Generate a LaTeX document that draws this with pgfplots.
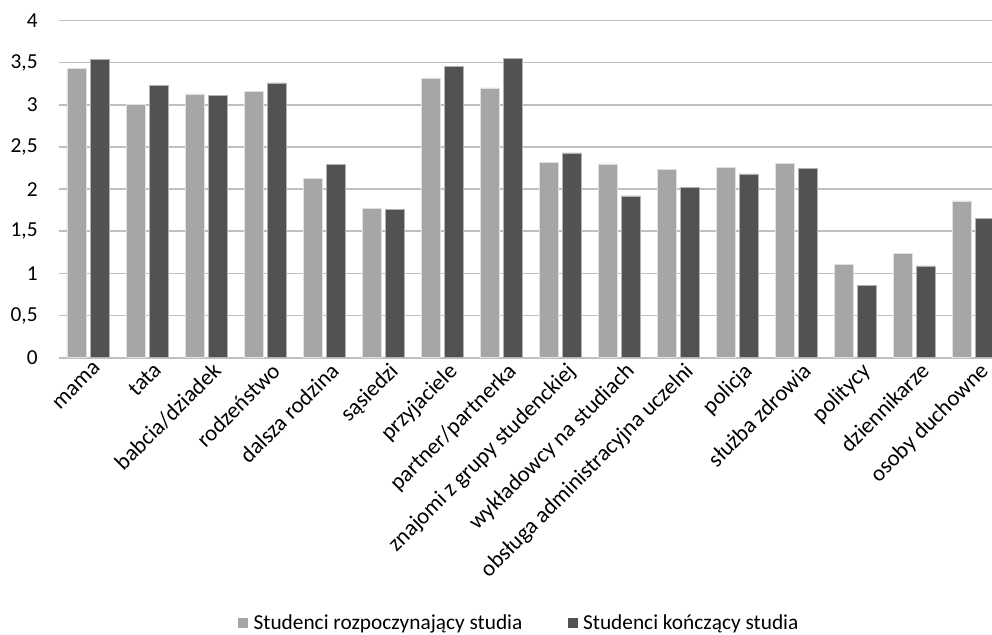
\documentclass[border=0pt]{standalone}
\usepackage{pgfplots}
\pgfplotsset{compat=1.18}
\usepackage{fontspec}
\setmainfont{Carlito}
\definecolor{lightbar}{HTML}{A6A6A6}
\definecolor{darkbar}{HTML}{525252}
\definecolor{gridgray}{HTML}{BFBFBF}
\begin{document}
\begin{tikzpicture}[x=1pt,y=1pt]
\begin{axis}[
  at={(0pt,0pt)}, anchor=south west,
  scale only axis,
  width=700.1pt, height=252.9pt,
  xmin=-0.5, xmax=15.32,
  ymin=0, ymax=4,
  ytick={0,0.5,1,1.5,2,2.5,3,3.5,4},
  yticklabels={0,{0,5},1,{1,5},2,{2,5},3,{3,5},4},
  xtick={0,...,15},
  xticklabels={mama,tata,babcia/dziadek,rodzeństwo,dalsza rodzina,sąsiedzi,przyjaciele,partner/partnerka,znajomi z grupy studenckiej,wykładowcy na studiach,obsługa administracyjna uczelni,policja,służba zdrowia,politycy,dziennikarze,osoby duchowne},
  x tick label style={rotate=45, anchor=north east, inner sep=0.5pt, font=\fontsize{17}{19}\selectfont, xshift=1.5pt, yshift=-4pt},
  y tick label style={font=\fontsize{16}{18}\selectfont, anchor=east, inner sep=0pt, xshift=-15.5pt},
  major tick length=0pt,
  axis line style={draw=none},
  ymajorgrids,
  grid style={gridgray, line width=1.2pt},
  ybar, bar width=0.322,
  legend style={at={(0.494,-0.787)}, anchor=center, draw=none, legend columns=2,
    font=\fontsize{16}{18}\selectfont,
    /tikz/every even column/.append style={column sep=32pt},
    /tikz/every odd column/.append style={column sep=2pt}},
  legend image code/.code={\draw[#1, draw=none] (0pt,-4pt) rectangle (7.5pt,3.5pt);},
]
\addplot[bar shift=-0.195, fill=lightbar, draw=white!88!black, line width=0.5pt] coordinates {
 (0,3.43) (1,3.00) (2,3.13) (3,3.16) (4,2.13) (5,1.77) (6,3.32) (7,3.20)
 (8,2.32) (9,2.30) (10,2.23) (11,2.26) (12,2.31) (13,1.11) (14,1.24) (15,1.86)};
\addplot[bar shift=0.195, fill=darkbar, draw=white!70!black, line width=0.5pt] coordinates {
 (0,3.54) (1,3.23) (2,3.11) (3,3.26) (4,2.29) (5,1.76) (6,3.46) (7,3.55)
 (8,2.43) (9,1.92) (10,2.02) (11,2.18) (12,2.25) (13,0.86) (14,1.09) (15,1.65)};
\legend{Studenci rozpoczynający studia, Studenci kończący studia}
\end{axis}
\pgfresetboundingbox
\useasboundingbox (-43.875pt,-207.2pt) rectangle (700.1pt,268.3pt);
\end{tikzpicture}
\end{document}
